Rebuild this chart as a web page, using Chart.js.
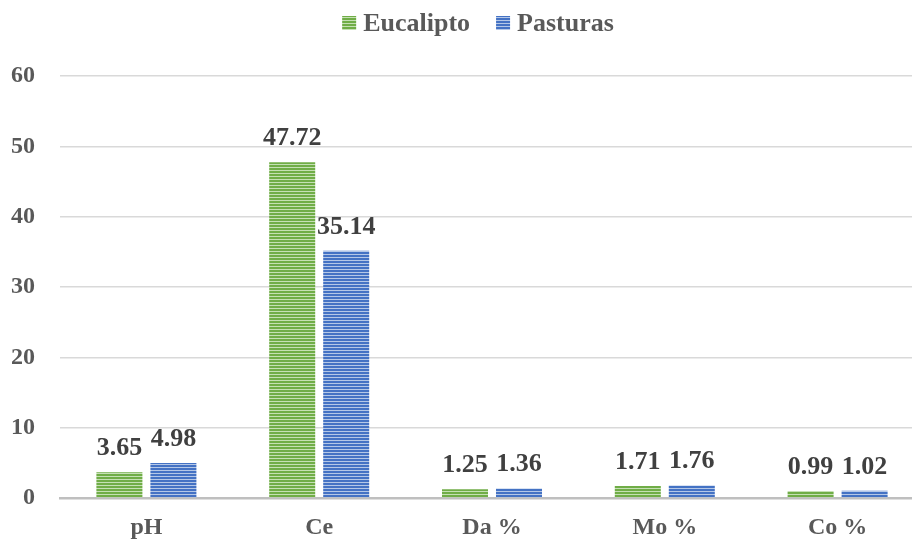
<!DOCTYPE html>
<html>
<head>
<meta charset="utf-8">
<script src="https://cdn.jsdelivr.net/npm/chart.js@4.4.0/dist/chart.umd.min.js"></script>
<style>
  html, body { margin: 0; padding: 0; background: #ffffff; overflow: hidden; }
  #wrap { width: 912px; height: 541px; overflow: hidden; }
  #c { display: block; }
</style>
</head>
<body>
<!-- the plot runs slightly past the right edge of the frame -->
<div id="wrap"><canvas id="c" width="924" height="541"></canvas></div>
<script>
const categories = ['pH', 'Ce', 'Da %', 'Mo %', 'Co %'];
const eucalipto = [3.65, 47.72, 1.25, 1.71, 0.99];
const pasturas = [4.98, 35.14, 1.36, 1.76, 1.02];
const yTicks = [0, 10, 20, 30, 40, 50, 60];

// Horizontal striped fill for the bars
function stripes(base, light) {
  const p = document.createElement('canvas');
  p.width = 4; p.height = 3;
  const g = p.getContext('2d');
  g.fillStyle = base; g.fillRect(0, 0, 4, 3);
  g.fillStyle = light; g.fillRect(0, 2, 4, 1);
  return g.createPattern(p, 'repeat');
}
const ctx0 = document.getElementById('c').getContext('2d');
const greenFill = stripes('#70ad47', '#c5e0b4');
const blueFill = stripes('#4472c4', '#b4c7e7');

const FONT = "'Liberation Serif', 'Times New Roman', serif";

// Value labels drawn above each bar
const valueLabels = {
  id: 'valueLabels',
  afterDatasetsDraw(chart) {
    const c = chart.ctx;
    c.save();
    c.font = 'bold 26px ' + FONT;
    c.fillStyle = '#404040';
    c.textAlign = 'center';
    c.textBaseline = 'bottom';
    chart.data.datasets.forEach((ds, i) => {
      chart.getDatasetMeta(i).data.forEach((bar, j) => {
        c.fillText(ds.data[j].toFixed(2), bar.x, bar.y - 11);
      });
    });
    c.restore();
  }
};

// Compact legend row at the top: square swatch, short gap, bold label
const topLegend = {
  id: 'topLegend',
  afterDraw(chart) {
    const c = chart.ctx;
    const box = 14, gap = 7, itemGap = 26, cy = 23, centerX = 478;
    c.save();
    c.font = 'bold 26px ' + FONT;
    c.textBaseline = 'middle';
    c.textAlign = 'left';
    const items = chart.data.datasets.map(ds => ({
      text: ds.label, fill: ds.backgroundColor, w: c.measureText(ds.label).width
    }));
    const total = items.reduce((s, it) => s + box + gap + it.w, 0) + itemGap * (items.length - 1);
    let x = centerX - total / 2;
    items.forEach(it => {
      c.fillStyle = it.fill;
      c.fillRect(x, cy - box / 2, box, box);
      x += box + gap;
      c.fillStyle = '#595959';
      c.fillText(it.text, x, cy + 1);
      x += it.w + itemGap;
    });
    c.restore();
  }
};

new Chart(ctx0, {
  type: 'bar',
  data: {
    labels: categories,
    datasets: [
      { label: 'Eucalipto', data: eucalipto, backgroundColor: greenFill, borderWidth: 0 },
      { label: 'Pasturas', data: pasturas, backgroundColor: blueFill, borderWidth: 0 }
    ]
  },
  options: {
    responsive: false,
    animation: false,
    devicePixelRatio: 1,
    layout: { padding: { left: 0, right: 0, top: 76, bottom: 0 } },
    datasets: { bar: { categoryPercentage: 0.625, barPercentage: 0.852 } },
    plugins: {
      legend: { display: false },
      tooltip: { enabled: false }
    },
    scales: {
      x: {
        afterFit(scale) { scale.height = 43; },
        grid: { display: false, drawTicks: false },
        border: { color: '#bfbfbf', width: 2.5 },
        ticks: {
          font: { family: FONT, size: 24, weight: 'bold' },
          color: '#595959',
          padding: 15
        }
      },
      y: {
        min: 0,
        max: 60,
        afterFit(scale) { scale.width = 60; },
        afterBuildTicks(axis) { axis.ticks = yTicks.map(v => ({ value: v })); },
        grid: { color: '#d9d9d9', lineWidth: 1.5, drawTicks: false },
        border: { display: false },
        ticks: {
          font: { family: FONT, size: 24, weight: 'bold' },
          color: '#595959',
          padding: 25
        }
      }
    }
  },
  plugins: [valueLabels, topLegend]
});
</script>
</body>
</html>
